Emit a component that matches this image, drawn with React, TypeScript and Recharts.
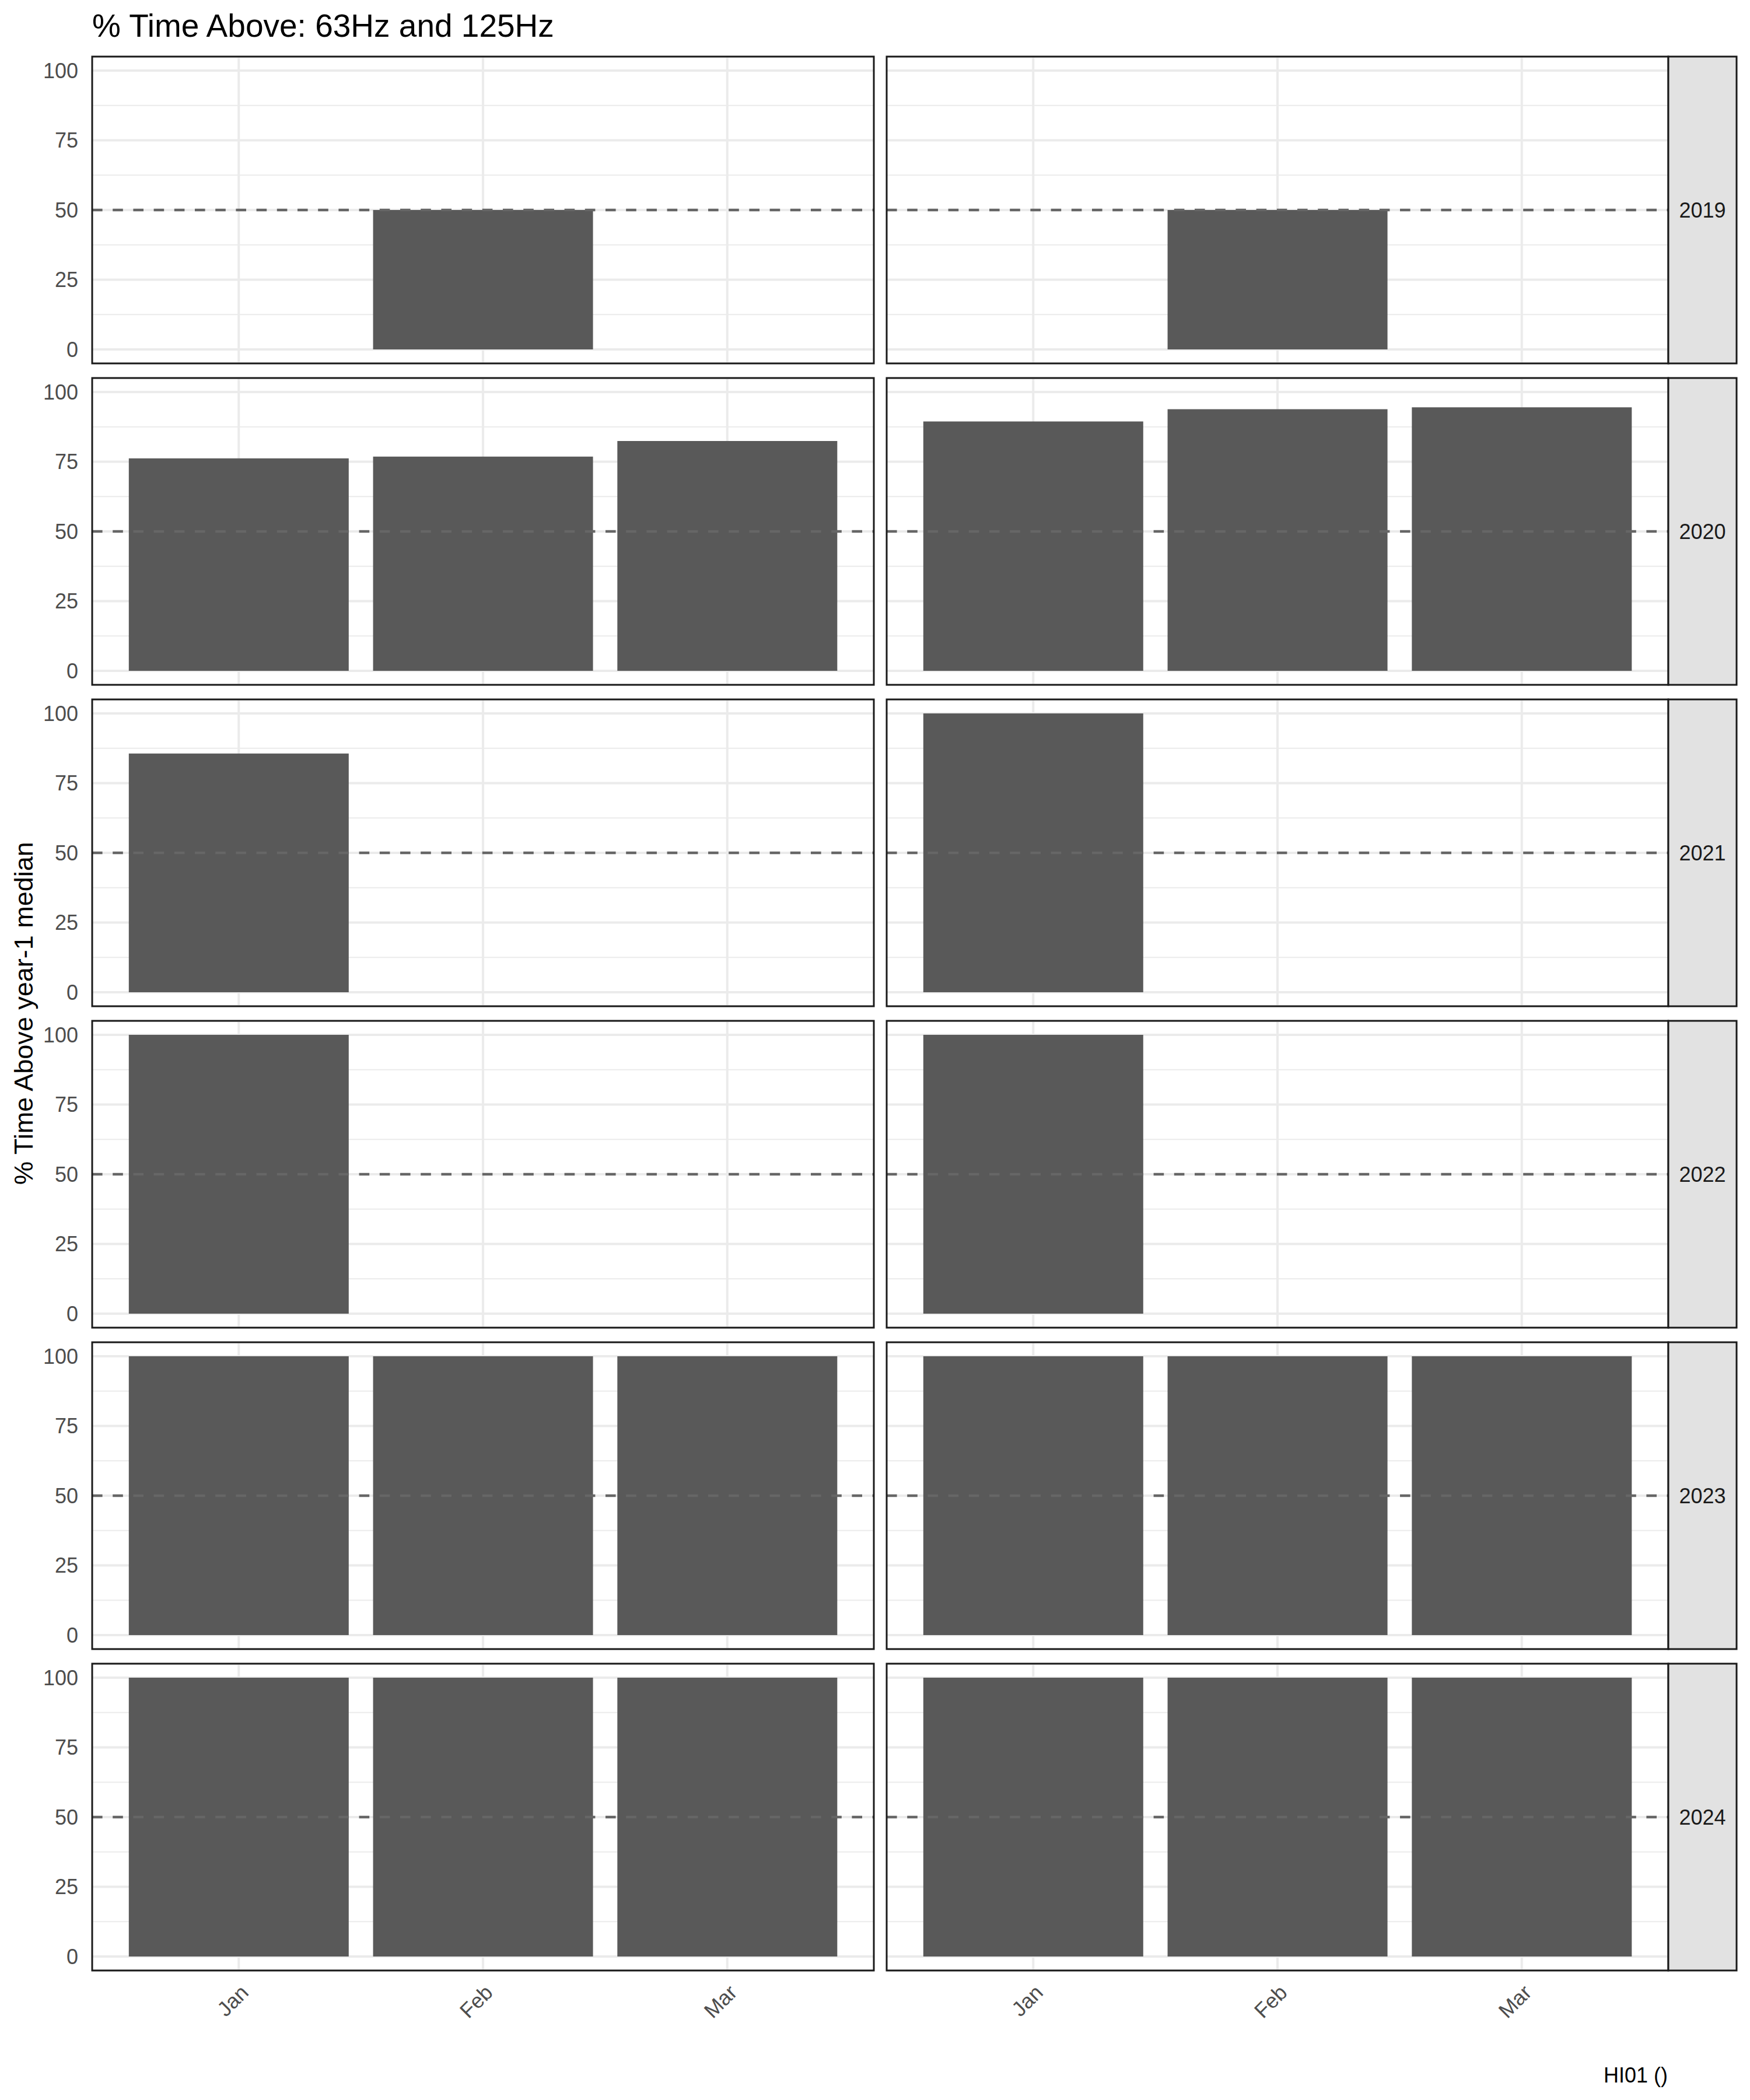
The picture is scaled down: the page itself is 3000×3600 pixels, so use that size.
import React from 'react';
import { BarChart, Bar, XAxis, YAxis, CartesianGrid, ReferenceLine } from 'recharts';

const months = ['Jan', 'Feb', 'Mar'];
const years = ['2019', '2020', '2021', '2022', '2023', '2024'];
// left facet column, one row per year, one value per month (null = no data)
const leftValues: (number | null)[][] = [
  [null, 50, null],
  [76.2, 76.8, 82.4],
  [85.6, null, null],
  [100, null, null],
  [100, 100, 100],
  [100, 100, 100],
];
// right facet column
const rightValues: (number | null)[][] = [
  [null, 50, null],
  [89.4, 93.8, 94.5],
  [100, null, null],
  [100, null, null],
  [100, 100, 100],
  [100, 100, 100],
];
const yTicks = [0, 25, 50, 75, 100];
const yMinorTicks = [12.5, 37.5, 62.5, 87.5];
const yDomain = [-5, 105];
const threshold = 50;

const FONT = '"Liberation Sans", Arial, Helvetica, sans-serif';
const PLOT_W = 1340;
const PLOT_H = 526;
const ROW_STEP = 551;
const TOP = 97;
const COL_X = [158, 1520];
const YAXIS_W = 158;
const XAXIS_H = 200;
const STRIP_W = 117;
const PAD = (PLOT_W / 3.2) * 0.1;

// recharts may hand over either a plain d3 scale or a wrapper with .map()
function applyScale(s: any, v: any): number | null {
  if (typeof s === 'function') return s(v);
  if (s && typeof s.map === 'function') {
    const r = s.map(v);
    return typeof r === 'number' ? r : null;
  }
  return null;
}

function MonthTick(props: any) {
  const { x, y, payload } = props;
  const px = x + 19;
  const py = y + 40;
  return (
    <text
      x={px}
      y={py}
      transform={`rotate(-45 ${px} ${py})`}
      textAnchor="end"
      fontSize={36}
      fill="#4d4d4d"
      fontFamily={FONT}
    >
      {payload.value}
    </text>
  );
}

function minorLines({ yAxis, offset }: any) {
  const s = yAxis && yAxis.scale;
  return yMinorTicks.map((v) => {
    const c = applyScale(s, v);
    if (c != null && Number.isFinite(c)) return c;
    return offset.top + (offset.height * (yDomain[1] - v)) / (yDomain[1] - yDomain[0]);
  });
}

function monthLines({ offset }: any) {
  const inner = offset.width - 2 * PAD;
  return months.map((m, i) => offset.left + PAD + (i + 0.5) * (inner / months.length));
}

function Panel({ values, row, col }: { values: (number | null)[]; row: number; col: number }) {
  const isLeft = col === 0;
  const isBottom = row === years.length - 1;
  const data = months.map((m, i) => ({ month: m, pct: values[i] }));
  const chartLeft = isLeft ? COL_X[col] - YAXIS_W : COL_X[col];
  const w = PLOT_W + (isLeft ? YAXIS_W : 0);
  const h = PLOT_H + (isBottom ? XAXIS_H : 0);

  return (
    <div style={{ position: 'absolute', left: chartLeft, top: TOP + row * ROW_STEP }}>
      <BarChart
        width={w}
        height={h}
        data={data}
        margin={{ top: 0, right: 0, bottom: 0, left: 0 }}
        barCategoryGap="5%"
      >
        <CartesianGrid
          stroke="#ebebeb"
          strokeWidth={2}
          vertical={false}
          horizontalCoordinatesGenerator={minorLines}
        />
        <CartesianGrid stroke="#ebebeb" strokeWidth={4} verticalCoordinatesGenerator={monthLines} />
        <XAxis
          dataKey="month"
          hide={!isBottom}
          height={isBottom ? XAXIS_H : 0}
          padding={{ left: PAD, right: PAD }}
          axisLine={false}
          tickLine={false}
          tickSize={0}
          tickMargin={0}
          interval={0}
          tick={<MonthTick />}
        />
        <YAxis
          hide={!isLeft}
          width={YAXIS_W}
          domain={yDomain}
          ticks={yTicks}
          allowDataOverflow
          axisLine={false}
          tickLine={false}
          tickSize={0}
          tickMargin={24}
          tick={{ fill: '#4d4d4d', fontSize: 36, fontFamily: FONT }}
        />
        <Bar dataKey="pct" fill="#595959" isAnimationActive={false} />
        <ReferenceLine
          y={threshold}
          stroke="#666666"
          strokeWidth={4.4}
          strokeDasharray="17.6 17.6"
        />
      </BarChart>
    </div>
  );
}

export default function App() {
  const stripX = COL_X[1] + PLOT_W;
  return (
    <div
      style={{
        position: 'absolute',
        left: 0,
        top: 0,
        width: 3000,
        height: 3600,
        background: '#ffffff',
        fontFamily: FONT,
      }}
    >
      {years.map((y, r) => (
        <React.Fragment key={y}>
          <Panel values={leftValues[r]} row={r} col={0} />
          <Panel values={rightValues[r]} row={r} col={1} />
        </React.Fragment>
      ))}
      <svg
        width={3000}
        height={3600}
        style={{ position: 'absolute', left: 0, top: 0, pointerEvents: 'none' }}
      >
        <text x={158} y={63} fontSize={55} fill="#000" fontFamily={FONT}>
          % Time Above: 63Hz and 125Hz
        </text>
        <text
          x={56}
          y={1737}
          transform="rotate(-90 56 1737)"
          textAnchor="middle"
          fontSize={45}
          fill="#000"
          fontFamily={FONT}
        >
          % Time Above year-1 median
        </text>
        <text x={2859} y={3570} textAnchor="end" fontSize={36} fill="#000" fontFamily={FONT}>
          HI01 ()
        </text>
        {years.map((y, r) => {
          const top = TOP + r * ROW_STEP;
          return (
            <g key={y}>
              {COL_X.map((x) => (
                <rect
                  key={x}
                  x={x}
                  y={top}
                  width={PLOT_W}
                  height={PLOT_H}
                  fill="none"
                  stroke="#1a1a1a"
                  strokeWidth={3}
                />
              ))}
              <rect
                x={stripX}
                y={top}
                width={STRIP_W}
                height={PLOT_H}
                fill="#e2e2e2"
                stroke="#1a1a1a"
                strokeWidth={3}
              />
              <text
                x={stripX + STRIP_W / 2}
                y={top + PLOT_H / 2}
                textAnchor="middle"
                dominantBaseline="central"
                fontSize={36}
                fill="#1a1a1a"
                fontFamily={FONT}
              >
                {y}
              </text>
            </g>
          );
        })}
      </svg>
    </div>
  );
}
